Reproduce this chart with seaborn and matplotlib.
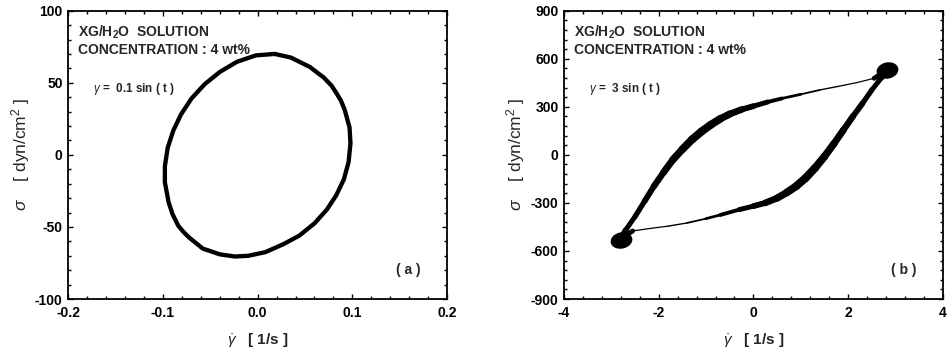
import matplotlib
matplotlib.use("Agg")
import matplotlib.pyplot as plt
import seaborn as sns
from matplotlib.ticker import MultipleLocator
from matplotlib.path import Path
from matplotlib.transforms import Affine2D

# ---- data ----
# panel (a): gamma = 0.1 sin(t), closed loop (clockwise from the top)
loop_a_x = [0.018, 0.035, 0.055, 0.070, 0.078, 0.083, 0.088, 0.092, 0.097, 0.098, 0.096,
            0.091, 0.083, 0.073, 0.060, 0.044, 0.027, 0.008, -0.010, -0.024, -0.040,
            -0.058, -0.073, -0.079, -0.084, -0.090, -0.094, -0.098, -0.098, -0.095, -0.089,
            -0.081, -0.070, -0.056, -0.040, -0.022, -0.002, 0.018]
loop_a_y = [70.0, 67.5, 61.0, 53.5, 48.0, 43.0, 37.5, 31.0, 19.0, 8.0, -5.0,
            -17.0, -28.0, -38.0, -47.5, -56.0, -62.0, -67.5, -70.0, -70.5, -69.0,
            -65.0, -57.0, -53.0, -49.0, -41.0, -33.0, -19.0, -8.0, 5.0, 17.0,
            28.0, 39.0, 49.0, 57.5, 64.5, 69.0, 70.0]

# panel (b): gamma = 3 sin(t), upper branch (left blob -> right blob)
upper_b_x = [-2.82, -2.70, -2.50, -2.30, -2.10, -1.90, -1.70, -1.50, -1.30, -1.10, -0.90,
             -0.70, -0.50, -0.25, 0.00, 0.30, 0.60, 1.00, 1.40, 1.80, 2.20, 2.55, 2.85]
upper_b_y = [-530, -470, -385, -290, -195, -110, -30, 35, 95, 145, 188,
             225, 255, 283, 304, 330, 352, 378, 405, 428, 452, 478, 535]
# lower branch (right blob -> left blob)
lower_b_x = [2.85, 2.70, 2.50, 2.30, 2.10, 1.90, 1.70, 1.50, 1.30, 1.10, 0.90,
             0.70, 0.50, 0.25, 0.00, -0.30, -0.70, -1.00, -1.40, -1.80, -2.20, -2.55, -2.85]
lower_b_y = [535, 480, 405, 320, 240, 155, 70, -10, -82, -145, -196,
             -236, -270, -300, -320, -342, -375, -398, -425, -445, -460, -475, -530]
# turning-point blobs
blob_b_x = [-2.80, 2.82]
blob_b_y = [-532, 530]

# ---- style ----
sns.set_style("ticks")
plt.rcParams['font.family'] = ['Liberation Sans', 'DejaVu Sans']
plt.rcParams['mathtext.fontset'] = 'custom'
plt.rcParams['mathtext.rm'] = 'Liberation Sans'
plt.rcParams['mathtext.it'] = 'Liberation Sans:italic'
plt.rcParams['mathtext.bf'] = 'Liberation Sans:bold'
plt.rcParams['axes.unicode_minus'] = False

# band width along each branch (points), thick where the cycles overlap
band_w = [4.0, 3.6, 3.8, 4.2, 4.6, 5.0, 5.3, 5.6, 5.8, 5.8, 5.6,
          5.2, 4.8, 4.2, 3.6, 2.8, 2.0, 1.3, 1.0, 0.9, 0.9, 3.5]
blob_marker = Path.unit_circle().transformed(Affine2D().scale(1.35, 1.0).rotate_deg(12))

fig = plt.figure(figsize=(9.47, 3.56), dpi=100)
ax1 = fig.add_axes([0.0721, 0.160, 0.400, 0.810])
ax2 = fig.add_axes([0.5956, 0.160, 0.400, 0.810])


def style_axes(ax, xlim, ylim, xmaj, xmin, ymaj, ymin, xfmt):
    ax.set_xlim(*xlim)
    ax.set_ylim(*ylim)
    ax.xaxis.set_major_locator(MultipleLocator(xmaj))
    ax.xaxis.set_minor_locator(MultipleLocator(xmin))
    ax.yaxis.set_major_locator(MultipleLocator(ymaj))
    ax.yaxis.set_minor_locator(MultipleLocator(ymin))
    ax.xaxis.set_major_formatter(xfmt)
    ax.tick_params(which='both', direction='in', top=True, right=True,
                   width=1.0, colors='black')
    ax.tick_params(which='major', length=3.8)
    ax.tick_params(which='minor', length=2.0)
    ax.tick_params(axis='x', pad=5, labelsize=10)
    ax.tick_params(axis='y', pad=4, labelsize=10)
    for lab in ax.get_xticklabels() + ax.get_yticklabels():
        lab.set_fontweight('bold')
    for spine in ax.spines.values():
        spine.set_linewidth(1.3)
        spine.set_edgecolor('black')
    ax.grid(False)
    ax.set_xlabel(r'$\dot{\gamma}$   [ 1/s ]', fontsize=11, fontweight='bold', labelpad=8)
    ax.set_ylabel(r'$\sigma$    [ dyn/cm$^2$ ]', fontsize=12.5, labelpad=2.5)


def add_text(ax, gamma_txt, panel):
    ax.text(0.026, 0.955, 'XG/H$_\\mathbf{2}$O  SOLUTION\nCONCENTRATION : 4 wt%',
            transform=ax.transAxes, fontsize=10, fontweight='bold',
            va='top', ha='left', linespacing=1.15)
    ax.text(0.065, 0.73, gamma_txt, transform=ax.transAxes, fontsize=8.5,
            fontweight='bold', va='center', ha='left')
    ax.text(0.93, 0.10, panel, transform=ax.transAxes, fontsize=10,
            fontweight='bold', va='center', ha='right')


# panel (a)
sns.lineplot(x=loop_a_x, y=loop_a_y, sort=False, estimator=None, ax=ax1,
             color='black', linewidth=3.1, solid_joinstyle='round')
style_axes(ax1, (-0.2, 0.2), (-100, 100), 0.1, 0.02, 50, 10, '{x:.1f}')
add_text(ax1, r'$\gamma$ =  0.1 sin ( t )', '( a )')

# panel (b)
for bx, by in [(upper_b_x, upper_b_y), (lower_b_x, lower_b_y)]:
    for i in range(len(bx) - 1):
        sns.lineplot(x=bx[i:i + 2], y=by[i:i + 2], sort=False, estimator=None,
                     ax=ax2, color='black', linewidth=band_w[i],
                     solid_capstyle='round')
sns.scatterplot(x=blob_b_x, y=blob_b_y, ax=ax2, color='black', s=260,
                marker=blob_marker, edgecolor='black', linewidth=0)
style_axes(ax2, (-4, 4), (-900, 900), 2, 0.4, 300, 60, '{x:.0f}')
add_text(ax2, r'$\gamma$ =  3 sin ( t )', '( b )')

fig.savefig('out.png', dpi=100)
